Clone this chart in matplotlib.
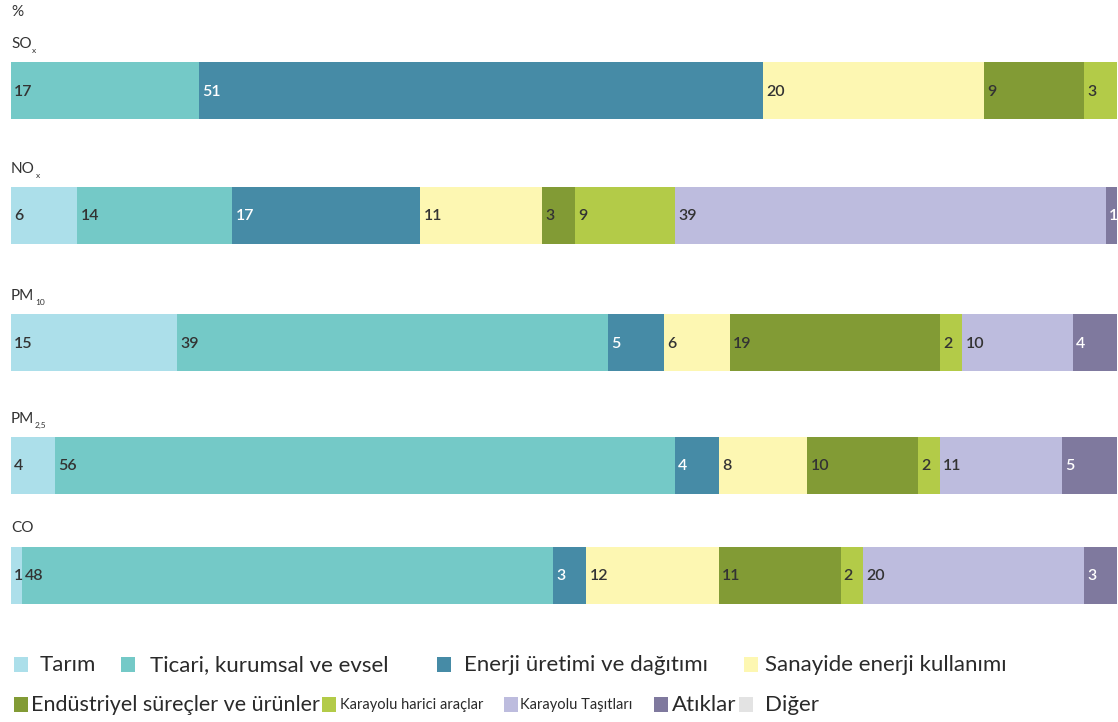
import matplotlib.pyplot as plt
from matplotlib.patches import Rectangle

plt.rcParams['font.family'] = ['Lato', 'DejaVu Sans']

# emission sources (legend order)
sources = ['Tarım', 'Ticari, kurumsal ve evsel', 'Enerji üretimi ve dağıtımı',
           'Sanayide enerji kullanımı', 'Endüstriyel süreçler ve ürünler',
           'Karayolu harici araçlar', 'Karayolu Taşıtları', 'Atıklar', 'Diğer']
colors = ['#acdfea', '#74c9c7', '#468ba6', '#fdf7b2', '#829b35',
          '#b3cb48', '#bdbcde', '#7f799e', '#e3e3e3']
dark_text = ['Enerji üretimi ve dağıtımı', 'Atıklar']

pollutants = [('SO', 'x'), ('NO', 'x'), ('PM', '10'), ('PM', '2,5'), ('CO', '')]

# share of each source, %
so_x = [0, 17, 51, 20, 9, 3, 0, 0, 0]
no_x = [6, 14, 17, 11, 3, 9, 39, 1, 0]
pm10 = [15, 39, 5, 6, 19, 2, 10, 4, 0]
pm25 = [4, 56, 4, 8, 10, 2, 11, 5, 0]
co = [1, 48, 3, 12, 11, 2, 20, 3, 0]
shares = [so_x, no_x, pm10, pm25, co]

W, H = 1118, 722
fig = plt.figure(figsize=(W / 100, H / 100), dpi=100)
ax = fig.add_axes([11 / W, 0, 1106 / W, 1])
ax.set_xlim(0, 100)
ax.set_ylim(H, 0)
ax.axis('off')

row_y = [90.5, 215.5, 342.5, 465.5, 575]
bar_h = 57

for (name, sub), vals, y in zip(pollutants, shares, row_y):
    left = 0
    for src, col, v in zip(sources, colors, vals):
        if v == 0:
            continue
        ax.barh(y, v, left=left, height=bar_h, color=col, edgecolor='none')
        tc = 'white' if src in dark_text else '#333333'
        ax.text(left + 0.3, y + 1, str(v), ha='left', va='center',
                fontsize=11.5, color=tc, fontweight='semibold')
        left += v
    t = ax.text(0, y - bar_h / 2 - 18, name, ha='left', va='center',
                fontsize=11, color='#333333')
    if sub:
        # small subscript hung off the right edge of the label
        ax.annotate(sub, xy=(1, 0.05), xycoords=t, xytext=(0.5, 0),
                    textcoords='offset points', ha='left', va='center',
                    fontsize=6, color='#333333')

fig.text(11 / W, 1 - 12 / H, '%', ha='left', va='center', fontsize=11,
         color='#333333')


def px(x, y):
    return x / W, 1 - y / H


# legend, two rows
legend_items = [
    (0, 14, 40, 665, 16), (1, 121, 150, 665, 16),
    (2, 437, 464, 665, 16), (3, 744, 765, 665, 16),
    (4, 14, 31, 705, 15.5), (5, 322, 340, 705, 10.5),
    (6, 504, 520, 705, 10.5), (7, 654, 672, 705, 16),
    (8, 739, 765, 705, 16),
]
for i, sx, tx, ty, fs in legend_items:
    x0, y0 = px(sx, ty + 7)
    fig.patches.append(Rectangle((x0, y0), 14 / W, 15 / H, transform=fig.transFigure,
                                 facecolor=colors[i], edgecolor='none'))
    fig.text(*px(tx, ty), sources[i], ha='left', va='center', fontsize=fs,
             color='#2a2a2a')

fig.savefig('out.png', dpi=100)
